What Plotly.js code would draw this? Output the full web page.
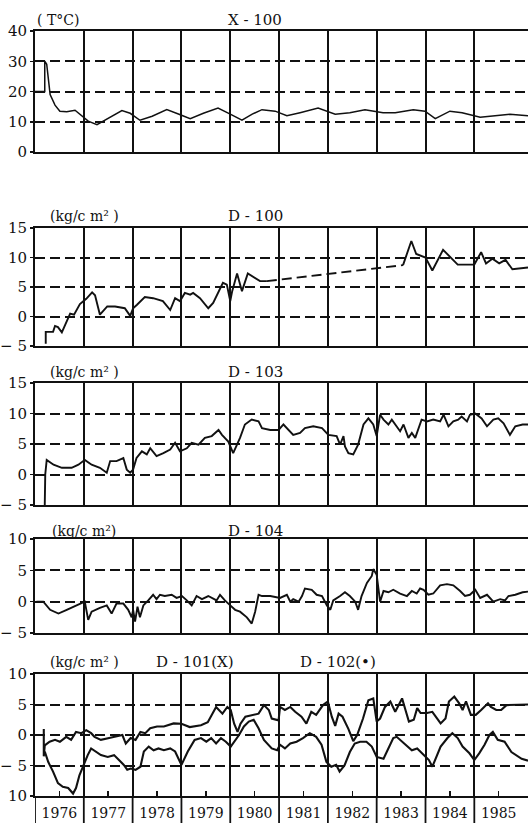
<!DOCTYPE html>
<html>
<head>
<meta charset="utf-8">
<script src="https://cdn.plot.ly/plotly-3.0.1.min.js"></script>
<style>
html,body{margin:0;padding:0;background:#fff;}
#chart{width:528px;height:825px;}
</style>
</head>
<body>
<div id="chart"></div>
<script>
// ---------- DATA ----------
const yearLines = [1977,1978,1979,1980,1981,1982,1983,1984,1985];
const yearSeparators = [1976,1977,1978,1979,1980,1981,1982,1983,1984,1985];
const yearMids = [1976.5,1977.5,1978.5,1979.5,1980.5,1981.5,1982.5,1983.5,1984.5,1985.5];
const yearLabels = ["1976","1977","1978","1979","1980","1981","1982","1983","1984","1985"];

// X-100 temperature (°C)
const x100_t = [1976.0,1976.2,1976.2,1976.24,1976.31,1976.41,1976.51,1976.65,1976.82,1976.92,1977.09,1977.27,1977.5,1977.78,1977.95,1978.15,1978.4,1978.7,1978.95,1979.18,1979.45,1979.75,1980.0,1980.24,1980.45,1980.65,1980.92,1981.16,1981.43,1981.8,1982.15,1982.45,1982.76,1983.13,1983.38,1983.75,1983.99,1984.2,1984.5,1984.75,1985.12,1985.43,1985.73,1986.1];
const x100_v = [20,20,30,29,19,15.5,13.5,13.3,13.8,12.5,10.2,9.0,11,13.7,12.8,10.5,11.8,14,12.5,11,12.8,14.5,12.5,10.5,12.5,14,13.5,12,13,14.5,12.5,13,14,13,13,14,13.5,11,13.5,13,11.5,12,12.5,12];

// D-100 (kg/cm2): measured part 1, missing (dashed) link, measured part 2
const d100a_t = [1976.22,1976.22,1976.37,1976.41,1976.47,1976.55,1976.72,1976.80,1976.92,1977.05,1977.17,1977.23,1977.33,1977.48,1977.64,1977.84,1977.95,1978.01,1978.09,1978.25,1978.42,1978.62,1978.77,1978.87,1978.97,1979.07,1979.18,1979.24,1979.38,1979.55,1979.65,1979.85,1979.93,1980.0,1980.04,1980.14,1980.24,1980.36,1980.61,1980.75];
const d100a_v = [-4.6,-2.6,-2.6,-1.6,-1.8,-2.7,0.5,0.3,2.1,3.0,4.1,3.6,0.3,1.7,1.7,1.4,0.1,1.4,2.0,3.3,3.1,2.6,1.1,3.1,2.6,4.0,3.7,4.0,3.1,1.4,2.3,5.7,5.4,2.6,4.3,7.3,4.3,7.3,6.0,6.0];
const d100b_t = [1980.75,1983.54];
const d100b_v = [6.0,8.7];
const d100c_t = [1983.54,1983.71,1983.81,1984.0,1984.14,1984.36,1984.66,1985.0,1985.14,1985.24,1985.37,1985.51,1985.64,1985.78,1986.1];
const d100c_v = [8.7,12.8,10.6,10.0,7.8,11.3,8.8,8.8,10.9,9.0,9.8,9.0,9.6,8.0,8.3];

// D-103
const d103_t = [1976.20,1976.21,1976.24,1976.38,1976.55,1976.75,1976.89,1977.02,1977.16,1977.33,1977.47,1977.54,1977.67,1977.81,1977.88,1977.95,1978.01,1978.08,1978.19,1978.29,1978.36,1978.49,1978.63,1978.77,1978.87,1978.97,1979.11,1979.21,1979.35,1979.48,1979.62,1979.76,1979.83,1979.96,1980.06,1980.20,1980.30,1980.44,1980.58,1980.65,1980.82,1980.99,1981.09,1981.29,1981.43,1981.53,1981.70,1981.88,1982.01,1982.18,1982.25,1982.32,1982.35,1982.42,1982.52,1982.62,1982.73,1982.83,1982.93,1983.00,1983.07,1983.14,1983.24,1983.31,1983.48,1983.55,1983.65,1983.72,1983.79,1983.92,1984.03,1984.16,1984.30,1984.37,1984.47,1984.57,1984.67,1984.74,1984.85,1984.91,1985.02,1985.15,1985.26,1985.39,1985.49,1985.60,1985.73,1985.84,1985.99,1986.1];
const d103_v = [-5,0.0,2.4,1.6,1.1,1.1,1.6,2.4,1.6,1.1,0.3,2.2,2.2,2.7,0.8,0.3,0.8,2.7,3.8,3.3,4.3,3.0,3.5,4.1,5.2,3.8,4.3,5.2,4.9,6.0,6.3,7.3,6.5,5.4,3.5,6.0,8.2,9.0,8.7,7.6,7.3,7.3,8.2,6.5,6.8,7.6,7.9,7.6,6.5,6.3,4.9,6.3,4.6,3.5,3.3,4.9,8.2,9.2,8.2,6.3,9.8,9.0,8.2,9.0,7.1,8.2,6.0,6.8,6.0,9.0,8.7,9.0,8.7,9.8,7.9,8.7,9.0,9.5,8.7,9.8,10.0,9.2,7.9,9.0,9.2,8.4,6.5,7.9,8.2,8.2];

// D-104
const d104_t = [1976.03,1976.17,1976.31,1976.48,1976.65,1976.85,1976.96,1977.02,1977.09,1977.16,1977.33,1977.47,1977.57,1977.67,1977.81,1977.91,1977.98,1978.01,1978.05,1978.10,1978.15,1978.22,1978.32,1978.42,1978.49,1978.56,1978.66,1978.80,1978.90,1979.01,1979.11,1979.21,1979.31,1979.42,1979.55,1979.72,1979.79,1979.89,1980.00,1980.10,1980.20,1980.34,1980.44,1980.51,1980.58,1980.65,1980.82,1981.02,1981.16,1981.23,1981.29,1981.40,1981.47,1981.53,1981.67,1981.77,1981.88,1981.98,1982.05,1982.11,1982.25,1982.35,1982.45,1982.56,1982.62,1982.69,1982.80,1982.90,1982.93,1983.00,1983.07,1983.14,1983.24,1983.34,1983.48,1983.62,1983.72,1983.82,1983.89,1983.96,1984.06,1984.16,1984.30,1984.44,1984.57,1984.71,1984.81,1984.91,1985.02,1985.12,1985.26,1985.39,1985.53,1985.63,1985.70,1985.84,1985.99,1986.1];
const d104_v = [0,0,-1.3,-1.9,-1.3,-0.6,-0.3,0,-2.9,-1.6,-1.0,-0.6,-1.9,-0.3,-0.3,-1.3,-2.5,-1.3,-3.2,-0.8,-2.5,-0.6,0.2,1.1,0.4,1.1,0.9,1.1,0.6,0.9,0.2,-0.6,0.9,0.4,0.9,0.2,1.1,0.2,-0.6,-1.3,-1.6,-2.5,-3.5,-1.6,1.1,0.9,0.9,0.6,1.1,0,0.4,0,0.9,2.1,1.9,1.1,0.9,-0.6,-1.3,0.2,0.9,1.5,0.9,0,-1.3,0.9,3.0,4.1,5.2,4.3,0,1.7,1.5,1.9,1.3,0.9,1.7,1.3,2.1,1.9,1.1,1.3,2.6,2.8,2.6,1.7,0.9,1.1,1.9,0.6,1.1,0,0.4,0.2,0.9,1.1,1.5,1.6];

// D-101 (X)
const d101_t = [1976.18,1976.18,1976.20,1976.30,1976.41,1976.51,1976.64,1976.74,1976.84,1976.95,1977.05,1977.15,1977.22,1977.35,1977.52,1977.66,1977.79,1977.86,1977.96,1978.06,1978.16,1978.26,1978.36,1978.50,1978.64,1978.84,1979.00,1979.17,1979.40,1979.54,1979.71,1979.84,1979.94,1980.01,1980.08,1980.15,1980.21,1980.31,1980.45,1980.58,1980.69,1980.79,1980.85,1980.99,1981.02,1981.12,1981.23,1981.33,1981.46,1981.56,1981.66,1981.76,1981.90,1982.00,1982.08,1982.15,1982.22,1982.30,1982.42,1982.52,1982.60,1982.72,1982.83,1982.93,1983.00,1983.07,1983.17,1983.28,1983.38,1983.45,1983.52,1983.59,1983.66,1983.76,1983.83,1983.90,1984.03,1984.14,1984.24,1984.31,1984.41,1984.48,1984.59,1984.69,1984.76,1984.83,1984.93,1985.03,1985.14,1985.28,1985.34,1985.45,1985.55,1985.66,1986.1];
const d101_v = [1.0,-3.5,-1.7,-1.1,-0.8,-1.1,-0.3,-0.8,0.5,0.3,0.8,0.3,-0.3,-0.8,-0.5,-0.3,0,-1.4,-0.5,-0.8,0.5,0.3,1.1,1.4,1.4,1.9,1.85,1.3,1.6,2.1,4.6,3.5,4.6,4.1,1.85,0.5,1.85,3.0,3.3,3.5,4.9,4.1,2.7,2.4,4.6,4.1,4.6,3.8,3.0,1.85,3.8,3.3,4.9,5.5,3.0,1.5,3.5,3.0,1.0,-1.0,0,2.7,5.7,6.0,2.2,2.7,4.6,5.5,3.8,4.9,6.0,4.1,2.2,2.5,4.4,3.6,3.6,3.8,2.7,1.9,2.7,5.5,6.3,5.2,4.1,5.5,3.3,3.3,4.1,5.2,4.6,4.1,4.1,4.9,5.0];

// D-102 (•)
const d102_t = [1976.20,1976.27,1976.37,1976.47,1976.57,1976.68,1976.78,1976.84,1976.91,1976.98,1977.08,1977.15,1977.25,1977.35,1977.49,1977.62,1977.72,1977.82,1977.89,1977.96,1978.06,1978.16,1978.23,1978.33,1978.43,1978.53,1978.64,1978.77,1978.87,1979.00,1979.13,1979.27,1979.40,1979.51,1979.61,1979.71,1979.81,1979.91,1980.01,1980.08,1980.18,1980.28,1980.38,1980.48,1980.58,1980.69,1980.79,1980.85,1980.96,1981.02,1981.12,1981.23,1981.36,1981.49,1981.63,1981.76,1981.87,1981.97,1982.07,1982.17,1982.24,1982.34,1982.45,1982.55,1982.66,1982.79,1982.90,1983.00,1983.14,1983.24,1983.34,1983.41,1983.52,1983.62,1983.72,1983.83,1983.97,1984.07,1984.14,1984.21,1984.31,1984.45,1984.55,1984.66,1984.76,1984.90,1985.00,1985.10,1985.21,1985.31,1985.38,1985.48,1985.62,1985.76,1985.97,1986.1];
const d102_v = [-2.7,-4.4,-6.0,-7.9,-8.5,-8.7,-9.6,-8.7,-6.6,-5.2,-3.3,-2.2,-2.7,-3.3,-3.6,-3.3,-4.1,-4.9,-5.7,-5.5,-5.7,-5.2,-2.7,-1.9,-2.5,-2.2,-2.5,-2.2,-2.7,-4.9,-2.7,-0.8,-0.5,-1.1,-0.5,-1.4,-0.5,-1.1,-1.9,-1.1,0,1.4,2.2,2.5,1.1,-0.8,-1.6,-2.2,-2.5,-1.6,-2.2,-1.4,-1.1,-0.5,0.3,-0.3,-1.6,-4.4,-5.2,-4.9,-6.0,-5.0,-2.8,-1.4,-1.1,-1.1,-1.9,-3.6,-3.9,-2.2,-0.5,-0.3,-1.1,-1.9,-2.5,-2.2,-3.3,-4.1,-5.2,-3.9,-1.9,-0.5,0.3,-0.5,-1.9,-3.0,-4.1,-3.0,-1.6,0,0.5,-0.8,-1.1,-2.8,-3.9,-4.2];

// Axis tick values / labels
const yRanges = [[0,40],[-5,15],[-5,15],[-5,10],[-10,10]];
const yTickVals = [[0,10,20,30,40],[-5,0,5,10,15],[-5,0,5,10,15],[-5,0,5,10],[-10,-5,0,5,10]];
const yTickText = [["0","10","20","30","40"],["− 5","0","5","10","15"],["− 5","0","5","10","15"],["− 5","0","5","10"],["10","− 5","0","5","10"]];
const unitLabels = ["( T°C)","(kg/c m² )","(kg/c m² )","(kg/c m²)","(kg/c m² )"];
const panelNames = ["X - 100","D - 100","D - 103","D - 104"];

// ---------- LAYOUT ----------
const W = 528, H = 825;
const FONT = "DejaVu Serif, Liberation Serif, serif";
const INK = "#111";
const panelTop = [31,228,383,539,674];
const panelBot = [152,346,505,633,796];
const titleY = [20,216,372,531,662];
const py = p => 1 - p / H;
const px = p => p / W;

const layout = {
  width: W, height: H,
  margin: {l:0, r:0, t:0, b:0},
  paper_bgcolor: "#fff", plot_bgcolor: "#fff",
  showlegend: false,
  font: {family: FONT, color: INK, size: 14},
  annotations: [], shapes: []
};

for (let i = 0; i < 5; i++) {
  const sfx = i === 0 ? "" : String(i + 1);
  const bottom = i === 4;
  layout["xaxis" + sfx] = {
    domain: [px(35), 1], range: [1976, 1986.1], anchor: "y" + sfx,
    showline: true, mirror: true, linecolor: INK, linewidth: 2,
    zeroline: false, showgrid: false,
    tickmode: "array", tickvals: bottom ? yearMids : [], ticktext: yearLabels,
    showticklabels: bottom, ticks: bottom ? "inside" : "", ticklen: 5, tickwidth: 1.5, tickcolor: INK,
    ticklabelstandoff: 3,
    tickfont: {family: FONT, size: 14, color: INK},
    minor: {tickmode: "array", tickvals: yearLines, showgrid: true, gridcolor: INK, gridwidth: 2, ticks: ""},
    fixedrange: true
  };
  layout["yaxis" + sfx] = {
    domain: [py(panelBot[i]), py(panelTop[i])], range: yRanges[i], anchor: "x" + sfx,
    tickmode: "array", tickvals: yTickVals[i], ticktext: yTickText[i],
    showline: true, linecolor: INK, linewidth: 2,
    ticks: "outside", ticklen: 3, tickcolor: INK, tickwidth: 1.5,
    showgrid: true, gridcolor: INK, gridwidth: 2, griddash: "10px,5px",
    zeroline: false,
    tickfont: {family: FONT, size: 15, color: INK},
    fixedrange: true
  };
  // unit label
  layout.annotations.push({
    xref: "paper", yref: "paper", x: px(i === 0 ? 58 : 84), y: py(titleY[i]),
    text: unitLabels[i], showarrow: false, xanchor: "center", yanchor: "middle",
    font: {family: FONT, size: 14, color: INK}
  });
}
// panel names
for (let i = 0; i < 4; i++) {
  layout.annotations.push({
    xref: "paper", yref: "paper", x: px(255), y: py(titleY[i]),
    text: panelNames[i], showarrow: false, xanchor: "center", yanchor: "middle",
    font: {family: FONT, size: 15, color: INK}
  });
}
layout.annotations.push({xref:"paper", yref:"paper", x:px(195), y:py(titleY[4]), text:"D - 101(X)", showarrow:false, xanchor:"center", yanchor:"middle", font:{family:FONT, size:15, color:INK}});
layout.annotations.push({xref:"paper", yref:"paper", x:px(338), y:py(titleY[4]), text:"D - 102(•)", showarrow:false, xanchor:"center", yanchor:"middle", font:{family:FONT, size:15, color:INK}});

// separators in the year-label row
yearSeparators.forEach(yr => {
  layout.shapes.push({type:"line", xref:"x5", yref:"paper", x0:yr, x1:yr, y0:py(796), y1:py(823), line:{color:INK, width:1.8}});
});

// ---------- TRACES ----------
const line = (x, y, xa, ya, w, dash) => ({
  type: "scatter", mode: "lines", x, y, xaxis: xa, yaxis: ya,
  line: {color: INK, width: w, dash: dash || "solid", shape: "linear"},
  hoverinfo: "skip"
});

const data = [
  line(x100_t, x100_v, "x", "y", 1.5),
  line(d100a_t, d100a_v, "x2", "y2", 1.9),
  line(d100b_t, d100b_v, "x2", "y2", 1.9, "10px,5px"),
  line(d100c_t, d100c_v, "x2", "y2", 1.9),
  line(d103_t, d103_v, "x3", "y3", 1.9),
  line(d104_t, d104_v, "x4", "y4", 1.9),
  line(d101_t, d101_v, "x5", "y5", 2.1),
  line(d102_t, d102_v, "x5", "y5", 2.1)
];

Plotly.newPlot("chart", data, layout, {staticPlot: true, displayModeBar: false});
</script>
</body>
</html>
